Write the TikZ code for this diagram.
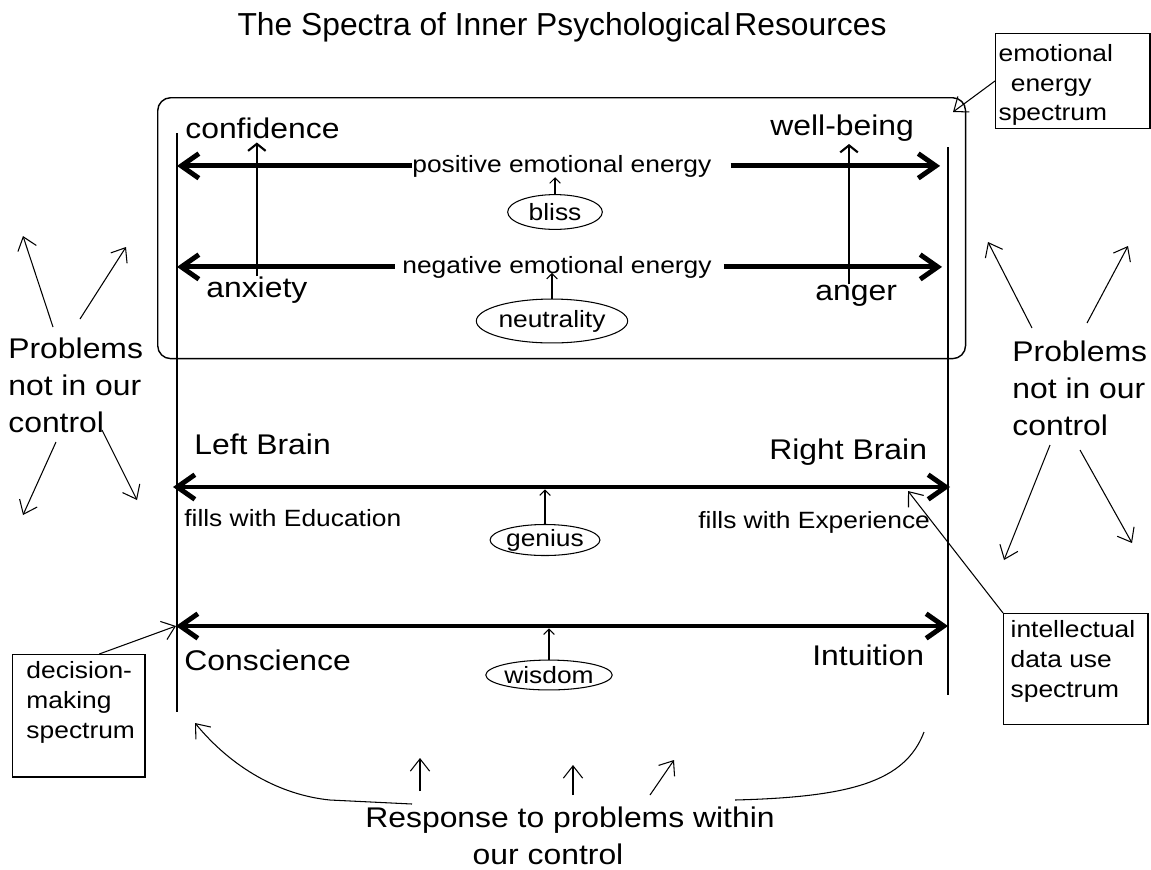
\documentclass[tikz,border=0pt]{standalone}
\usepackage{fontspec}
\setmainfont{Liberation Sans}
\usepackage{graphicx}
\usetikzlibrary{arrows.meta,shapes.geometric}
\newcommand\sx[1]{\scalebox{1.12}[1]{#1}}
\newcommand\bigf{\fontsize{16.2pt}{21pt}\selectfont}
\newcommand\smallf{\fontsize{13.4pt}{17pt}\selectfont}
\tikzset{
  titlestyle/.style={font=\fontsize{18.1pt}{22pt}\selectfont, inner sep=0pt, anchor=base},
  biglabel/.style={font=\bigf, inner sep=0pt, anchor=base west},
  smalllabel/.style={font=\smallf, inner sep=0pt, anchor=base west},
  oval/.style={draw, ellipse, line width=0.6pt, inner sep=0pt, font=\smallf},
  axisline/.style={line width=0.7pt},
  textbox/.style={draw, line width=0.7pt, anchor=north west},
  thinarr/.style={line width=0.6pt, -{Straight Barb[length=7pt,width=11pt]}},
  midarr/.style={line width=1.2pt, -{Straight Barb[length=4pt,width=10pt]}},
  tinyarr/.style={line width=0.6pt, -{Straight Barb[length=3pt,width=6pt]}},
  heavy/.style={line width=2.8pt, -{Straight Barb[length=10pt,width=14pt]}},
  heavyboth/.style={line width=2.8pt, {Straight Barb[length=10pt,width=14pt]}-{Straight Barb[length=10pt,width=14pt]}}
}
\begin{document}
\begin{tikzpicture}[x=0.02cm,y=-0.02cm]
\useasboundingbox (0,0) rectangle (1151,869);
\fill[white] (0,0) rectangle (1151,869);

% title
\node[titlestyle] (title) at (562,35) {The Spectra of Inner Psychological\hspace{0.12em}Resources};

% frame of the emotional energy spectrum
\node[draw, line width=0.8pt, rounded corners=7.4pt, minimum width=16.16cm, minimum height=5.22cm, inner sep=0pt, anchor=north west] (frame) at (157,97) {};

% axis lines
\coordinate (axL) at (177,133);
\coordinate (axLb) at (177,712);
\coordinate (axR) at (948,147);
\coordinate (axRb) at (948,695);
\draw[axisline] (axL) -- (axLb);
\draw[axisline] (axR) -- (axRb);

% labels
\node[biglabel] (conf) at (185,138) {\sx{confidence}};
\node[biglabel] (well) at (770,135) {\sx{well-being}};
\node[biglabel] (anx) at (206,297) {\sx{anxiety}};
\node[biglabel] (ang) at (815,300) {\sx{anger}};
\node[smalllabel] (pos) at (412,172) {\sx{positive emotional energy}};
\node[smalllabel] (neg) at (402,273) {\sx{negative emotional energy}};
\node[biglabel] (lb) at (194,454) {\sx{Left Brain}};
\node[biglabel] (rb) at (769,459) {\sx{Right Brain}};
\node[smalllabel] (edu) at (184,526) {\sx{fills with Education}};
\node[smalllabel] (exper) at (698,528) {\sx{fills with Experience}};
\node[biglabel] (cons) at (184,670) {\sx{Conscience}};
\node[biglabel] (intu) at (812,665) {\sx{Intuition}};

% ovals
\node[oval, minimum width=53.9pt, minimum height=19.8pt] (bliss) at (555,212) {\sx{bliss}};
\node[oval, minimum width=82.8pt, minimum height=25pt] (neut) at (552,321) {\sx{neutrality}};
\node[oval, minimum width=50pt, minimum height=14.7pt] (genius) at (545,540) {\sx{genius}};
\node[oval, minimum width=64.6pt, minimum height=17pt] (wisdom) at (549,675) {\sx{wisdom}};

% heavy spectrum arrows
\draw[heavy] (pos.west) -- (pos.west -| axL);
\draw[heavy, shorten <=10.8pt, shorten >=4.5pt] (pos.east) -- (pos.east -| axR);
\draw[heavy, shorten <=4pt] (neg.west) -- (neg.west -| axL);
\draw[heavy, shorten <=6.8pt, shorten >=3.4pt] (neg.east) -- (neg.east -| axR);
\coordinate (brainL) at (173,487);
\coordinate (brainR) at (950,487);
\draw[heavyboth] (brainL) -- (brainR);
\coordinate (consL) at (176,626);
\coordinate (consR) at (948,626);
\draw[heavyboth] (consL) -- (consR);

% vertical arrows in the emotional frame
\draw[midarr, shorten >=2.2pt] (anx.north) -- (anx.north |- conf.south);
\coordinate (wb) at (849,144);
\draw[midarr] (ang.north -| wb) -- (wb);

% small arrows from the ovals
\draw[tinyarr] (bliss.north) -- (bliss.north |- pos.south);
\draw[tinyarr] (neut.north) -- ([yshift=3pt]neut.north |- neg.south);
\draw[tinyarr, shorten >=1.4pt] (genius.north) -- (genius.north |- brainL);
\draw[tinyarr, shorten >=1.4pt] (wisdom.north) -- (wisdom.north |- consL);

% side boxes
\node[textbox, inner xsep=1.7pt, inner ysep=6pt] (emo) at (995,33)
  {\parbox[t][41.9pt][t]{84.5pt}{\smallf\sx{emotional}\\\hspace*{7pt}\sx{energy}\\\sx{spectrum}}};
\node[textbox, inner xsep=4pt, inner ysep=4pt] (intel) at (1003,613)
  {\parbox[t][54.9pt][t]{74.2pt}{\smallf\sx{intellectual}\\\sx{data use}\\\sx{spectrum}}};
\node[textbox, inner xsep=7.9pt, inner ysep=4pt] (dec) at (12,654)
  {\parbox[t][61.7pt][t]{59.6pt}{\smallf\sx{decision-}\\\sx{making}\\\sx{spectrum}}};

\coordinate (emotip) at (953,112);
\draw[thinarr] (emo.west) -- (emotip);
\coordinate (rbtip) at (908,491);
\draw[thinarr] (intel.north west) -- (rbtip);
\draw[thinarr] ([xshift=11.6pt]dec.north) -- (consL);

% problems not in our control
\node[font=\bigf, inner sep=0pt, align=left, anchor=north west] (probL) at (8,338)
  {\sx{Problems}\\\sx{not in our}\\\sx{control}};
\node[font=\bigf, inner sep=0pt, align=left, anchor=north west] (probR) at (1012,341)
  {\sx{Problems}\\\sx{not in our}\\\sx{control}};

\draw[thinarr] ([shift={(45,-11)}]probL.north west) -- ([shift={(15,-102)}]probL.north west);
\draw[thinarr] ([shift={(72,-19)}]probL.north west) -- ([shift={(118,-91)}]probL.north west);
\draw[thinarr] ([shift={(48,104)}]probL.north west) -- ([shift={(15,177)}]probL.north west);
\draw[thinarr] ([shift={(94,92)}]probL.north west) -- ([shift={(129,162)}]probL.north west);

\draw[thinarr] ([shift={(20,-13)}]probR.north west) -- ([shift={(-24,-99)}]probR.north west);
\draw[thinarr] ([shift={(75,-18)}]probR.north west) -- ([shift={(116,-95)}]probR.north west);
\draw[thinarr] ([shift={(38,104)}]probR.north west) -- ([shift={(-8,219)}]probR.north west);
\draw[thinarr] ([shift={(68,109)}]probR.north west) -- ([shift={(120,202)}]probR.north west);

% response to problems within our control
\node[font=\bigf, inner sep=0pt, align=center, anchor=north] (resp) at (570,807)
  {\sx{Response to problems within}\\\sx{our control}\hspace*{25pt}};

\coordinate (curveLtip) at (195,723);
\coordinate (curveRend) at (924,732);
\draw[thinarr] ([shift={(47,-3)}]resp.north west) -- (330,800)
   .. controls (280,795) and (232,768) .. (curveLtip);
\draw[line width=0.6pt] ([shift={(-40,-7)}]resp.north east)
   .. controls (850,797) and (905,782) .. (curveRend);

\draw[thinarr] ([shift={(-150,-16)}]resp.north) -- ([shift={(-150,-49)}]resp.north);
\draw[thinarr] ([shift={(3,-12)}]resp.north) -- ([shift={(3,-42)}]resp.north);
\draw[thinarr] ([shift={(80,-12)}]resp.north) -- ([shift={(104,-47)}]resp.north);
\end{tikzpicture}
\end{document}
